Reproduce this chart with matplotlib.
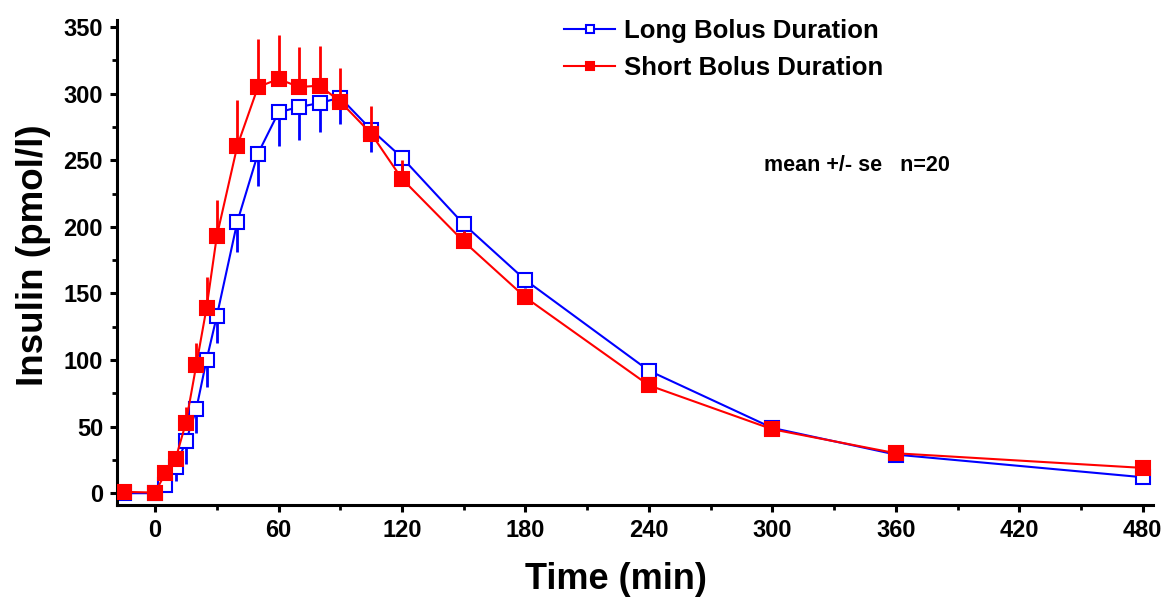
#!/usr/bin/env python3
import matplotlib

matplotlib.use("Agg")
import matplotlib.pyplot as plt
from matplotlib.ticker import MultipleLocator

plt.rcParams["font.family"] = ["Liberation Sans", "DejaVu Sans"]
plt.rcParams["font.weight"] = "bold"

TIME = [-15, 0, 5, 10, 15, 20, 25, 30, 40, 50, 60, 70, 80, 90, 105, 120, 150, 180, 240, 300, 360, 480]
LONG = [0, 0, 6, 20, 39, 63, 100, 133, 204, 255, 286, 290, 293, 297, 273, 252, 202, 160, 92, 49, 29, 12]
LONG_SE = [1, 1, 4, 11, 17, 18, 20, 20, 23, 24, 25, 25, 22, 20, 17, 10, 8, 6, 4, 3, 2, 2]
SHORT = [1, 0.5, 15, 26, 53, 96, 139, 193, 261, 305, 311, 305, 306, 294, 270, 236, 189, 147, 81, 48, 30, 19]
SHORT_SE = [1, 1, 3, 5, 12, 17, 23, 27, 34, 36, 33, 30, 30, 25, 21, 14, 8, 4, 4, 3, 2, 2]

LABELS = ["Long Bolus Duration", "Short Bolus Duration"]
BLUE = "#0000ff"
RED = "#ff0000"


def main() -> None:
    fig = plt.figure(figsize=(11.76, 6.0), dpi=100)
    ax = fig.add_axes([0.0995, 0.158, 0.881, 0.808])

    zeros = [0] * len(TIME)
    ax.errorbar(TIME, LONG, yerr=[LONG_SE, zeros], color=BLUE, ecolor=BLUE, elinewidth=2.0,
                capsize=0, lw=1.5, marker="s", ms=10, mfc="white", mec=BLUE, mew=1.5,
                label=LABELS[0], zorder=2)
    ax.errorbar(TIME, SHORT, yerr=[zeros, SHORT_SE], color=RED, ecolor=RED, elinewidth=2.0,
                capsize=0, lw=1.5, marker="s", ms=10, mfc=RED, mec=RED, mew=1.5,
                label=LABELS[1], zorder=3)

    ax.set_xlim(-18.5, 485)
    ax.set_ylim(-9, 355)
    ax.xaxis.set_major_locator(MultipleLocator(60))
    ax.xaxis.set_minor_locator(MultipleLocator(30))
    ax.yaxis.set_major_locator(MultipleLocator(50))
    ax.yaxis.set_minor_locator(MultipleLocator(25))

    for side in ("top", "right"):
        ax.spines[side].set_visible(False)
    for side in ("left", "bottom"):
        ax.spines[side].set_linewidth(2.2)
    ax.tick_params(which="major", direction="out", length=5, width=2.2, labelsize=17, pad=5)
    ax.tick_params(which="minor", direction="out", length=3.5, width=2.0)
    for lab in ax.get_xticklabels() + ax.get_yticklabels():
        lab.set_fontweight("bold")

    ax.set_xlabel("Time (min)", fontsize=26, fontweight="bold")
    ax.set_ylabel("Insulin (pmol/l)", fontsize=26.5, fontweight="bold")
    ax.xaxis.set_label_coords(0.482, -0.118)
    ax.yaxis.set_label_coords(-0.064, 0.516)

    ax.text(296, 246, "mean +/- se   n=20", fontsize=15.5, fontweight="bold", va="center")

    handles, labels = ax.get_legend_handles_labels()
    handles = [h[0] for h in handles]
    leg = ax.legend(handles, labels, loc="upper left", bbox_to_anchor=(0.409, 1.05),
                    frameon=False, fontsize=18.5, handlelength=2.0, handletextpad=0.35,
                    labelspacing=0.5, markerscale=0.6)
    for t in leg.get_texts():
        t.set_fontweight("bold")

    fig.savefig("out.png", dpi=100)
    plt.close(fig)


if __name__ == "__main__":
    main()
